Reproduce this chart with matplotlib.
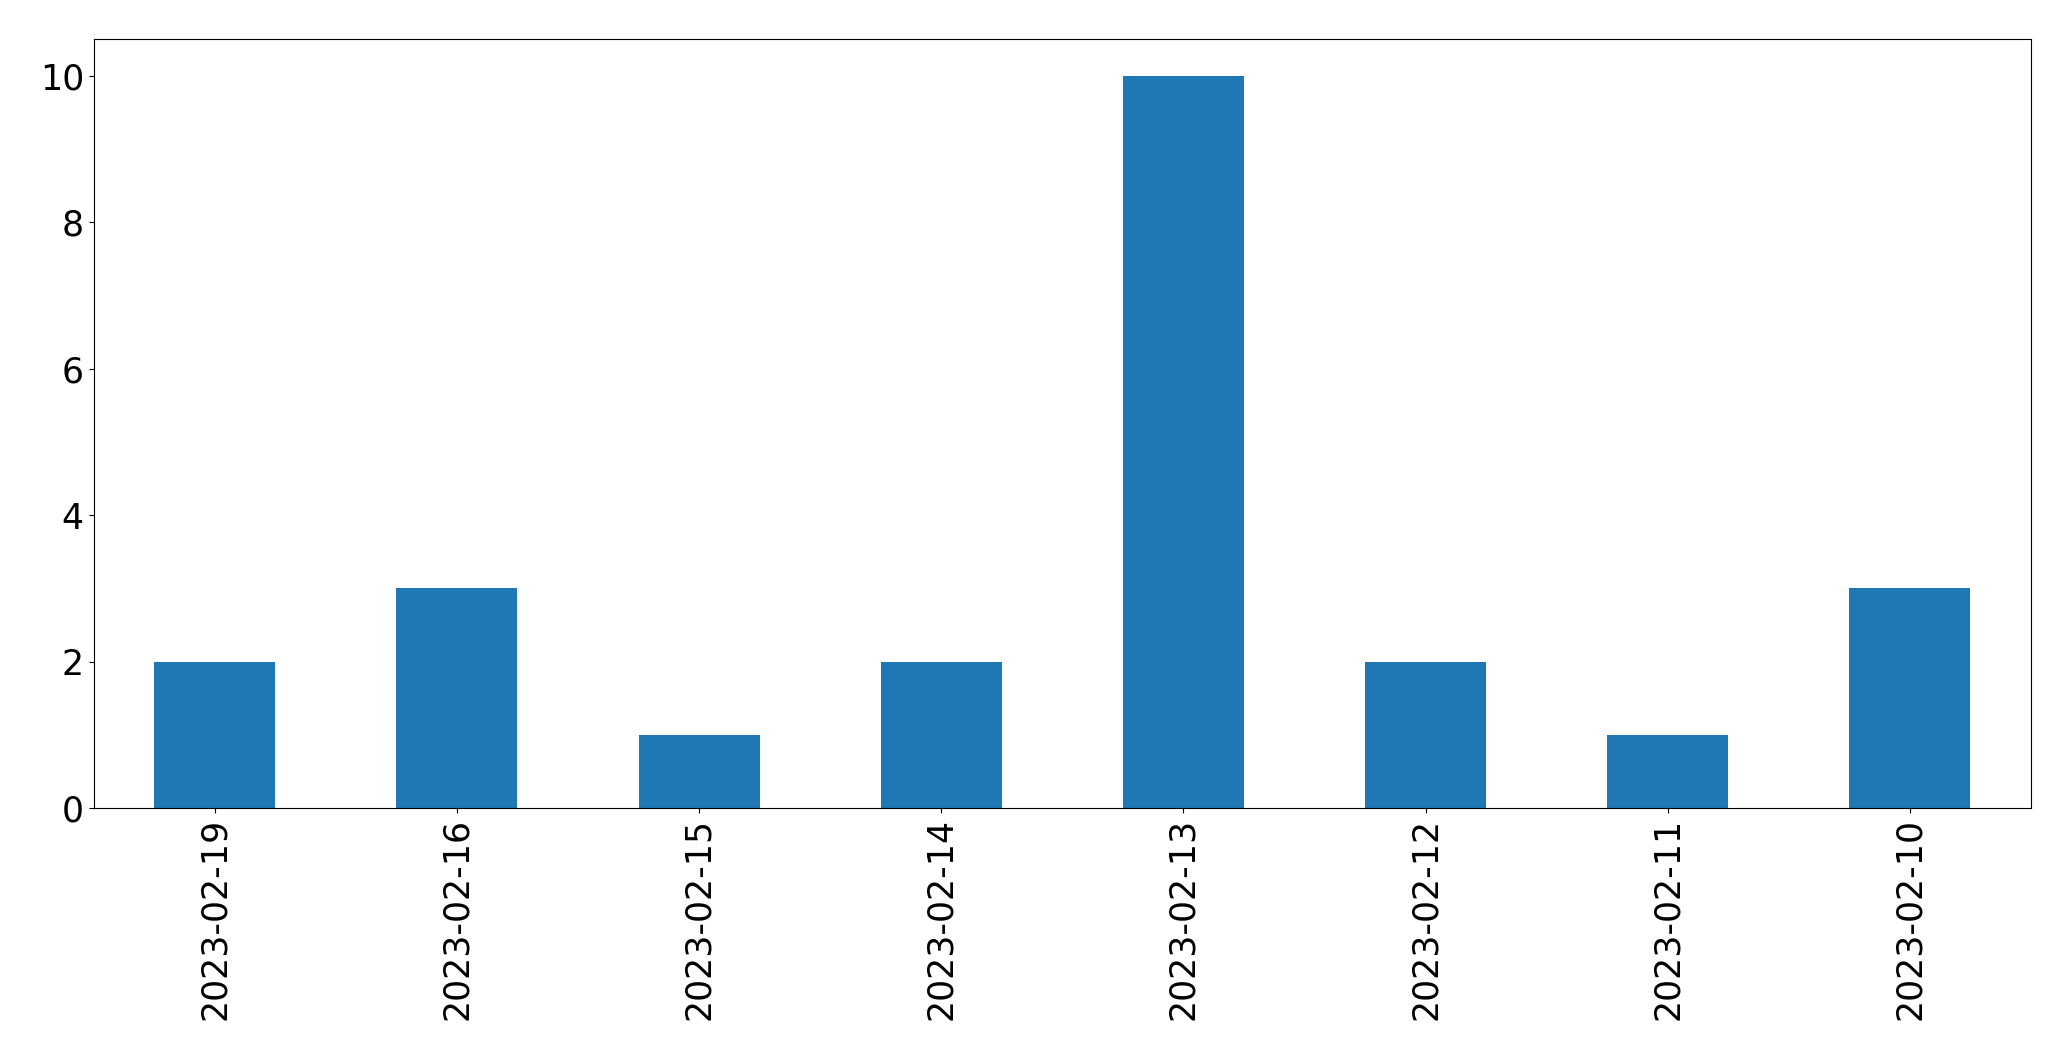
import matplotlib
matplotlib.use("Agg")
import matplotlib.pyplot as plt

dates = ["2023-02-19", "2023-02-16", "2023-02-15", "2023-02-14",
         "2023-02-13", "2023-02-12", "2023-02-11", "2023-02-10"]
counts = [2, 3, 1, 2, 10, 2, 1, 3]

fig = plt.figure(figsize=(20.71, 10.61), dpi=100)
ax = fig.add_axes([0.0452, 0.2385, 0.9355, 0.7243])
x = list(range(len(dates)))
ax.bar(x, counts, width=0.5, color="#1f77b4")
ax.set_xlim(-0.5, len(dates) - 0.5)
ax.set_xticks(x)
ax.set_xticklabels(dates, rotation=90)
ax.set_yticks([0, 2, 4, 6, 8, 10])
ax.tick_params(labelsize=25)
fig.savefig("out.png", dpi=100)
